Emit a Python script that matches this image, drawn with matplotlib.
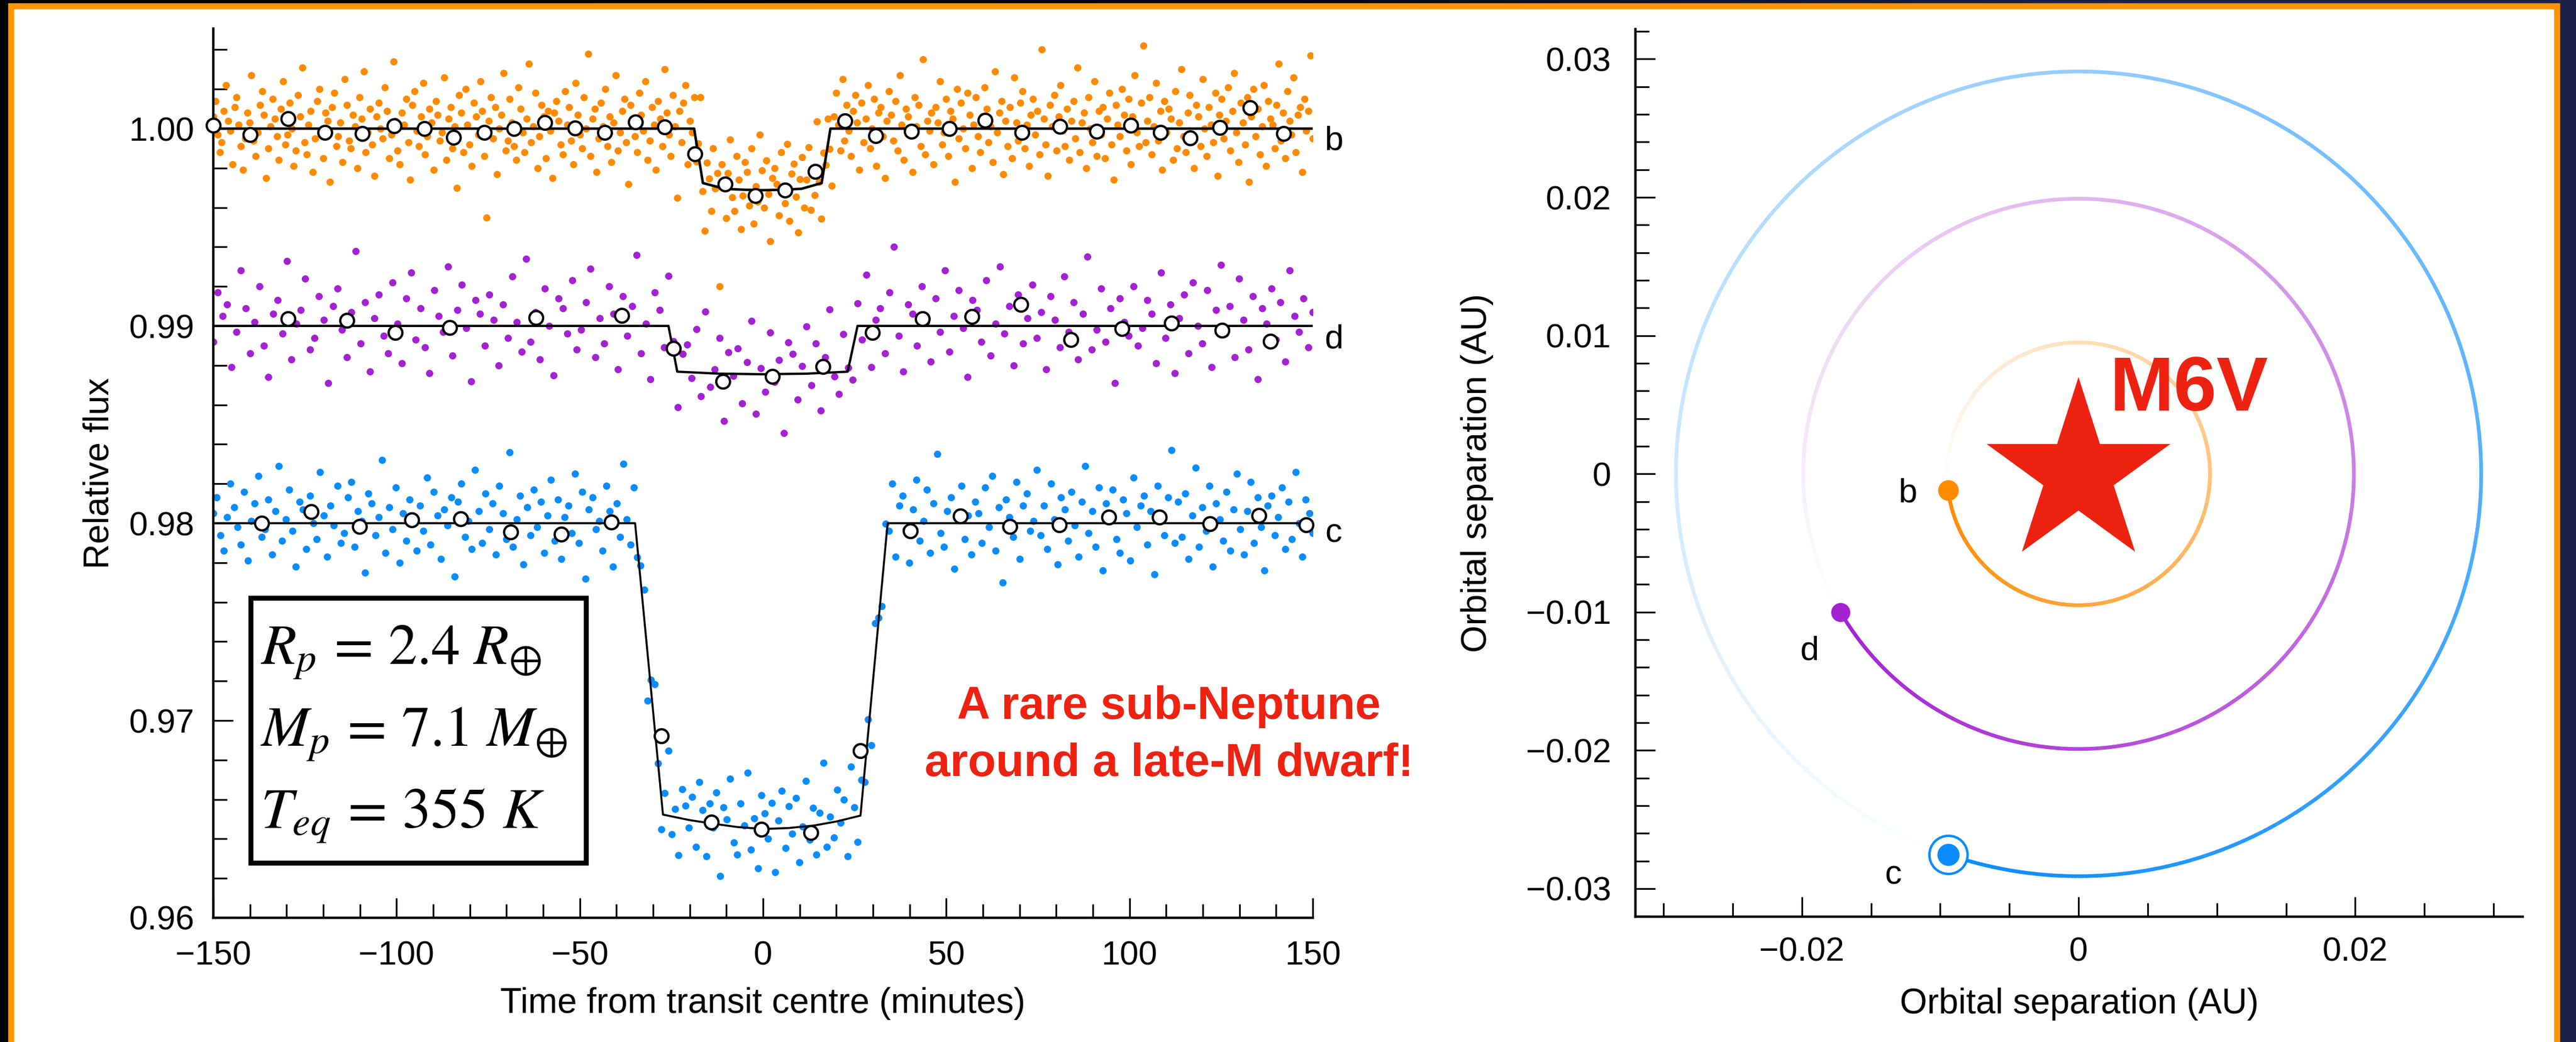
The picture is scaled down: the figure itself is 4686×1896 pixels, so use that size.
import numpy as np
import matplotlib
matplotlib.use("Agg")
import matplotlib.pyplot as plt
from matplotlib.collections import LineCollection
from matplotlib.patches import Rectangle
from matplotlib.colors import to_rgb
from matplotlib.ticker import MultipleLocator, FixedLocator, FixedFormatter

plt.rcParams['font.family'] = ['Liberation Sans', 'DejaVu Sans']
plt.rcParams['mathtext.fontset'] = 'stix'

W, H = 4686, 1896

# ---------------- light curve data ----------------
# transit models (time in minutes, relative flux)
b_model_t = [-150, -18.8, -16.4, -10.5, -5, 0, 5, 10.5, 16.0, 18.4, 150]
b_model_f = [1.0, 1.0, 0.99724, 0.99695, 0.99690, 0.99688, 0.99690, 0.99695, 0.99724, 1.0, 1.0]
d_model_t = [-150, -25.8, -23.4, -12, 0, 12, 23.1, 25.8, 150]
d_model_f = [0.990, 0.990, 0.98768, 0.98758, 0.98755, 0.98758, 0.98768, 0.990, 0.990]
c_model_t = [-150, -34.9, -27.3, -20, -14, -7, 0, 7, 14, 20, 26.6, 34.0, 150]
c_model_f = [0.980, 0.980, 0.96523, 0.96495, 0.96478, 0.96460, 0.96450, 0.96455, 0.96468, 0.96488, 0.96518, 0.980, 0.980]

# individual measurements: deviation from the model, in units of 1e-4
b_resid = [
    6, 14, -3, -12, -7, 9, 22, 4, -1, -18, 11, 16, 2, -9, -21, -5, 8, 3, 27, -6,
    -14, -2, 12, 19, 7, -25, -10, 1, 15, 5, -4, -16, 10, 24, -8, -3, 13, 0, -19, -11,
    17, 6, 31, -7, -13, 2, 9, -22, -5, 14, 20, -1, -15, 8, 4, -27, 11, 18, -9, -4,
    3, -17, 25, 12, -6, -10, 7, 1, -20, 16, 5, 29, -12, -2, 10, -8, -24, 6, 13, 0,
    -5, 21, 9, -15, -3, 34, 4, -11, -18, 8, 2, 15, -7, -26, 12, 19, -1, -9, 6, 23,
    -13, -4, 10, 3, -21, 14, 7, -6, -2, 26, -16, 5, 11, -10, 1, -30, 17, 8, -12, 20,
    2, -8, -19, 13, 6, -3, 24, 9, -14, -45, 4, 16, -5, 11, -23, 0, 7, 28, -11, -6,
    15, 3, -9, -16, 21, 10, -2, -12, 5, 33, -7, 1, 18, -20, -4, 12, 6, -15, 9, -1,
    -25, 8, 14, 4, -8, -13, 19, 2, 11, -6, -18, 23, 7, -3, -10, 16, 0, 38, -14, 5,
    10, -22, -5, 13, 1, 20, -9, 6, -17, 3, 27, -11, -2, 9, 15, -7, -28, 12, 4, -4,
    -12, 18, 7, -1, 24, -16, -6, 11, 2, -21, 14, 5, -9, 30, 8, -3, -14, 17, 1, -35,
    9, -7, 13, 22, -18, 4, -2, 16, -10, 6, 36, -5, -24, 11, 3, -13, 19, -1, 7, -50,
    12, 1, -15, 8, 25, -4, -11, 17, 5, -20, -3, 14, 9, -8, 21, -17, 2, -6, 28, 10,
    -9, 15, -2, -26, 6, 11, 3, -13, 19, 0, -7, 23, -16, 8, 13, -4, -22, 5, 16, -10,
    4, 20, -12, 7, -5, 32, 1, -18, 10, -3, 14, -8, -29, 6, 18, 2, -11, 25, -6, 12,
    -1, -14, 9, 17, 3, -21, 13, -7, 5, 22, -10, 0, 15, -19, 8, 11, -4, -25, 4, 19,
    7, -6, 14, -11, 27, 2, -16, 10, 6, -3, -22, 16, 1, 12, -9, 35, -13, 4, -1, 8,
    -18, 11, 3, 24, -8, -2, 15, -14, 9, 5, -27, 20, -5, 13, 0, -10, 18, 7, -20, 2,
    16, -4, -12, 6, 21, 10, -7, 1, -17, 29, -2, 8, 14, -23, 4, -9, 11, -15, 26, 3,
    -6, 13, 19, -10, 2, -19, 7, 15, -3, 9, -13, 40, 5, -8, -24, 12, 1, 17, -11, 6,
    22, -1, -9, 10, -16, 4, 14, -5, 31, -12, 3, 8, -20, 16, 0, -7, 24, -14, 9, -3,
    11, -15, 5, 18, -8, -26, 12, 2, -4, 20, 7, -11, 15, -18, 6, 27, -2, -9, 13, 42,
    -7, 4, 16, -13, 1, 23, -6, 9, -21, 14, -2, 10, 5, -16, 19, -10, 3, 30, -4, -12,
    8, 17, -3, -20, 12, 6, -9, 25, 0, -14, 11, 2, -7, 18, -24, 7, 15, -5, 4, 21,
    -11, 9, 28, -2, -17, 13, 3, -8, 16, -27, 6, 20, -4, 10, -13, 1, 22, -19, 14, 5,
    2, -10, 12, 33, -6, 8, -15, 19, 4, -3, 26, -12, 7, 11, -22, 15, -1, 9, 37, -5,
]
d_resid = [
    -8, 17, 5, 11, -21, -3, 28, 9, -14, 2, 20, -10, -26, 6, 13, -4, 33, -17, 1, 8,
    24, -12, -6, 15, 3, -29, 10, 19, -2, -16, 7, 38, -9, 12, -23, 4, 16, -5, -14, 22,
    1, -19, 14, 27, -7, 9, -11, -24, 18, 5, -3, 30, -15, 8, 21, -1, -28, 13, 6, -10,
    16, 3, -20, 11, -6, 25, 2, -13, 34, -8, 7, -17, 19, 0, -25, 14, 9, -4, 23, -12,
    -2, 12, 29, -16, 4, -9, 20, 6, -22, 15, -5, 10, 36, -14, 1, -27, 17, 8, -11, 26,
    5, -18, 9, 14, -3, 22, -12, 31, -7, 2, 18, -24, 11, -1, 13, -15, 6, 27, -20, 3,
    -9, 21, -4, 7, -30, 16, 10, -13, 4, 24, -6, 15, -19, 8, 32, -2, -11, 19, 1, -16,
    12, -7, 26, -21, 3, 9, -14, 17, 40, -5, -23, 11, 6, -10, 20, 2, -18, 14, -3, 28,
    -13, 5, 18, -1, -26, 13, 8, -8, 23, -15, 1, 30, -4, 10, -20, 16, -9, 4, 21, -6,
    7, -22, 15, 3, -11, 25, -3, 12, -17, 6, 35, -12, -2, 19, -8, 9, -29, 14, 2, -5,
    20, -10, -1, 13, 6, -19, 27, -6, 11, -24, 4, 16, -14, 22, 0, -9, 18, -21, 8, 31,
    -4, 10, -16, 24, 3, -12, 15, -27, 9, 1, 19, -7, 12, -18, 28, 5, -3, 14, -11, 7,
]
c_resid = [
    5, 13, -6, -14, 3, 20, 8, -2, -11, 16, -19, 1, 10, 24, -7, -3, 12, -16, 6, 29,
    -9, 2, 17, -4, -22, 11, 7, -13, 14, 0, -8, 26, 4, -17, 9, -1, 19, -10, -5, 13,
    21, -12, 6, 1, -25, 15, 10, -6, 3, 32, -15, 8, -3, 18, -20, 5, -9, 12, 2, -14,
    9, -4, 23, -11, 16, 4, -18, 7, -1, 13, -27, 11, 20, -7, 1, -13, 27, 6, -10, 15,
    -3, 10, -16, 19, 5, -8, 36, -12, 2, 14, -21, 8, -6, 17, -2, 11, -15, 4, 22, -9,
    12, -18, 3, 9, -5, 25, -10, 16, -28, 7, 13, -3, 1, -14, 19, 6, -22, 10, -7, 30,
    2, -11, 18, -6, 8, 14, -24, 5, 21, -1, -16, 11, 33, -9, 4, -19, 15, 7, -4, 12,
    -13, 20, 6, -17, 10, -2, 16, -26, 9, 3, 24, -8, -14, 12, 1, 28, -11, 5, -20, 17,
    8, -5, 13, -22, 4, 19, -10, 11, -3, 15, -18, 0, 23, -7, 9, -15, 6, 31, -12, 3,
    -8, 16, -1, 10, -19, 26, 5, -13, 14, -6, 7, -25, 18, 2, -11, 12, -4, 20, -17, 9,
    14, -3, -20, 7, 22, -9, 1, 17, -15, 10, 35, -5, -12, 6, 13, -23, 3, 19, -8, 4,
    -16, 11, 5, -10, 18, -2, 24, -14, 8, -30, 12, 3, -7, 21, -18, 9, 15, -4, 1, 27,
    -6, 9, -13, 20, 2, -21, 13, 7, -9, 16, -1, -17, 11, 29, -5, 6, -12, 18, -24, 10,
    3, 17, -8, -15, 12, 5, -19, 23, -2, 9, 14, -11, 6, -26, 19, 1, -6, 13, 37, -10,
    11, -7, 15, -18, 4, 28, -12, 8, -4, 19, -22, 10, 2, -9, 16, -14, 7, 25, -3, -16,
    6, 21, -10, 13, -2, -24, 9, 14, -6, 3, 18, -13, 11, -8, 26, 0, -17, 12, 5, -5,
]

# binned points
b_bin_t = [-150.0, -139.9, -129.6, -119.5, -109.3, -100.6, -92.4, -84.4, -76.0, -67.9, -59.6,
           -51.3, -43.2, -34.8, -26.8, -18.6, -10.4, -2.1, 6.0, 14.3, 22.4, 30.7, 40.5, 50.8,
           60.6, 70.7, 81.0, 91.1, 100.3, 108.5, 116.6, 124.7, 132.9, 142.1]
b_bin_f = [1.00018, 0.99968, 1.00049, 0.99980, 0.99974, 1.00015, 0.99999, 0.99955, 0.99980,
           1.00000, 1.00030, 1.00003, 0.99980, 1.00034, 1.00008, 0.99871, 0.99720, 0.99661,
           0.99688, 0.99782, 1.00040, 0.99964, 0.99987, 0.99999, 1.00042, 0.99980, 1.00011,
           0.99987, 1.00018, 0.99980, 0.99952, 1.00005, 1.00105, 0.99974]
d_bin_t = [-129.6, -113.6, -100.3, -85.5, -62.0, -38.5, -24.4, -11.0, 2.6, 16.3, 29.8, 43.5,
           57.0, 70.4, 84.0, 98.0, 111.5, 125.3, 138.5]
d_bin_f = [0.99035, 0.99029, 0.98967, 0.98992, 0.99041, 0.99054, 0.98886, 0.98718, 0.98743,
           0.98793, 0.98967, 0.99035, 0.99048, 0.99110, 0.98930, 0.98986, 0.99013, 0.98979,
           0.98923]
c_bin_t = [-136.8, -123.3, -110.1, -95.9, -82.5, -68.9, -55.1, -41.4, -27.7, -14.1, -0.5, 13.1,
           26.5, 40.2, 53.8, 67.3, 80.9, 94.3, 108.2, 121.9, 135.3, 148.2]
c_bin_f = [0.97999, 0.98058, 0.97983, 0.98016, 0.98021, 0.97956, 0.97943, 0.98006, 0.96922,
           0.96486, 0.96448, 0.96433, 0.96847, 0.97961, 0.98035, 0.97984, 0.97993, 0.98032,
           0.98030, 0.97998, 0.98040, 0.97992]

# ---------------- orbit data ----------------
planet_names = ['b', 'd', 'c']
orbit_a = [0.0095, 0.0199, 0.0291]          # AU
orbit_phase = [187.1, 210.2, 251.1]         # degrees, current position

col_b = '#ff8a00'
col_d = '#a322d2'
col_c = '#0a8cff'
red = '#ee2211'
planet_cols = [col_b, col_d, col_c]

fig = plt.figure(figsize=(W / 100, H / 100), dpi=100)


def px_axes(x0, y0, x1, y1, **kw):
    return fig.add_axes([x0 / W, 1 - y1 / H, (x1 - x0) / W, (y1 - y0) / H], **kw)


# background: dark space, orange frame, white panel
bg = px_axes(0, 0, W, H, zorder=-10)
bg.imshow([[[0, 0, 0], [0.02, 0.02, 0.06], [0.11, 0.13, 0.30]]],
          extent=(0, W, H, 0), aspect='auto', interpolation='bilinear')
bg.add_patch(Rectangle((15, 6), 4641, H, color='#ff9300'))
bg.add_patch(Rectangle((26, 17), 4619, H, color='white'))
bg.set_xlim(0, W)
bg.set_ylim(H, 0)
bg.axis('off')


def style(ax, xpad, ypad):
    for s in ['top', 'right']:
        ax.spines[s].set_visible(False)
    for s in ['left', 'bottom']:
        ax.spines[s].set_linewidth(3.2)
    ax.tick_params(which='both', direction='in', width=2.3, labelsize=44)
    ax.tick_params(which='major', length=26)
    ax.tick_params(which='minor', length=18)
    ax.tick_params(axis='x', which='both', pad=xpad)
    ax.tick_params(axis='y', which='both', pad=ypad)
    ax.patch.set_alpha(0)


# ---------------- left: transit light curves ----------------
ax = px_axes(388, 52, 2388, 1670)
ax.set_xlim(-150, 150)
ax.set_ylim(0.96, 1.00507)
style(ax, 30, 25)

series = [
    (b_model_t, b_model_f, b_resid, col_b, b_bin_t, b_bin_f, 3.3),
    (d_model_t, d_model_f, d_resid, col_d, d_bin_t, d_bin_f, 3.0),
    (c_model_t, c_model_f, c_resid, col_c, c_bin_t, c_bin_f, 2.6),
]
for mt, mf, res, col, bt, bf, lw in series:
    t = np.linspace(-150, 150, len(res))
    f = np.interp(t, mt, mf) + np.array(res) * 1e-4
    ax.scatter(t, f, s=90, color=col, linewidths=0, zorder=2)
    ax.plot(mt, mf, color='black', lw=lw, zorder=3)
    ax.plot(bt, bf, 'o', ms=18, mfc='white', mec='black', mew=3, zorder=4, clip_on=False)

for name, yl in zip(['b', 'd', 'c'], [0.99894, 0.98886, 0.97905]):
    ax.text(155.7, yl, name, fontsize=44, ha='center', va='baseline')

ax.xaxis.set_major_locator(MultipleLocator(50))
ax.xaxis.set_minor_locator(MultipleLocator(10))
ax.yaxis.set_major_locator(FixedLocator([0.96, 0.97, 0.98, 0.99, 1.00]))
ax.yaxis.set_minor_locator(MultipleLocator(0.002))
ax.yaxis.set_major_formatter(FixedFormatter(['0.96', '0.97', '0.98', '0.99', '1.00']))
ax.set_xlabel('Time from transit centre (minutes)', fontsize=46)
ax.set_ylabel('Relative flux', fontsize=46)
ax.xaxis.set_label_coords(0.5, -0.078)
ax.yaxis.set_label_coords(-0.089, 0.5)

# parameter box
ax.add_patch(Rectangle((-139.8, 0.96279), 91.5, 0.01342, fill=False, lw=6.5,
                       ec='black', zorder=5, clip_on=False))
box_lines = [r'$R_p\,=\,2.4\ R_{\oplus}$', r'$M_p\,=\,7.1\ M_{\oplus}$', r'$T_{eq}\,=\,355\ K$']
for line, yb in zip(box_lines, [0.97284, 0.96869, 0.96454]):
    ax.text(-137.1, yb, line, fontsize=75, ha='left', va='baseline', zorder=6)

ax.text(110.8, 0.97008, 'A rare sub-Neptune', fontsize=60, fontweight='bold',
        color=red, ha='center', va='baseline')
ax.text(110.8, 0.96718, 'around a late-M dwarf!', fontsize=60, fontweight='bold',
        color=red, ha='center', va='baseline')

# ---------------- right: orbits ----------------
ax2 = px_axes(2975, 52.6, 4589, 1668)
ax2.set_xlim(-0.03203, 0.0321)
ax2.set_ylim(-0.03203, 0.03218)
style(ax2, 26, 32)

for a, ph, col in zip(orbit_a, orbit_phase, planet_cols):
    th = np.radians(ph + np.linspace(0, 360, 721))
    x, y = a * np.cos(th), a * np.sin(th)
    segs = np.stack([np.column_stack([x[:-1], y[:-1]]), np.column_stack([x[1:], y[1:]])], axis=1)
    fade = np.linspace(0, 1, len(segs))[:, None]
    base = np.array(to_rgb(col))[None, :]
    cols = 1 - (1 - base) * (1 - fade)
    ax2.add_collection(LineCollection(segs, colors=cols, linewidths=4.8, capstyle='round', zorder=2))

pos = {n: (a * np.cos(np.radians(p)), a * np.sin(np.radians(p)))
       for n, a, p in zip(planet_names, orbit_a, orbit_phase)}
ax2.plot(*pos['b'], 'o', ms=27, color=col_b, mew=0, zorder=4)
ax2.plot(*pos['d'], 'o', ms=25, color=col_d, mew=0, zorder=4)
ax2.plot(*pos['c'], 'o', ms=50, mfc='white', mec=col_c, mew=3.2, zorder=4)
ax2.plot(*pos['c'], 'o', ms=29, color=col_c, mew=0, zorder=5)

ax2.text(-0.01237, -0.00203, 'b', fontsize=44, ha='center', va='baseline')
ax2.text(-0.01944, -0.01346, 'd', fontsize=44, ha='center', va='baseline')
ax2.text(-0.01342, -0.02965, 'c', fontsize=44, ha='center', va='baseline')

ax2.plot(0, 0, marker='*', ms=253, color=red, mew=0, zorder=3)
ax2.text(0.00225, 0.00459, 'M6V', fontsize=101, fontweight='bold', color=red,
         ha='left', va='baseline', zorder=6)

ax2.xaxis.set_major_locator(FixedLocator([-0.02, 0, 0.02]))
ax2.xaxis.set_major_formatter(FixedFormatter(['\u22120.02', '0', '0.02']))
ax2.xaxis.set_minor_locator(MultipleLocator(0.005))
ax2.yaxis.set_major_locator(FixedLocator([-0.03, -0.02, -0.01, 0, 0.01, 0.02, 0.03]))
ax2.yaxis.set_major_formatter(FixedFormatter(['\u22120.03', '\u22120.02', '\u22120.01', '0',
                                              '0.01', '0.02', '0.03']))
ax2.yaxis.set_minor_locator(MultipleLocator(0.002))
ax2.set_xlabel('Orbital separation (AU)', fontsize=46)
ax2.set_ylabel('Orbital separation (AU)', fontsize=46)
ax2.xaxis.set_label_coords(0.5, -0.080)
ax2.yaxis.set_label_coords(-0.160, 0.5)

fig.savefig('out.png', dpi=100)
